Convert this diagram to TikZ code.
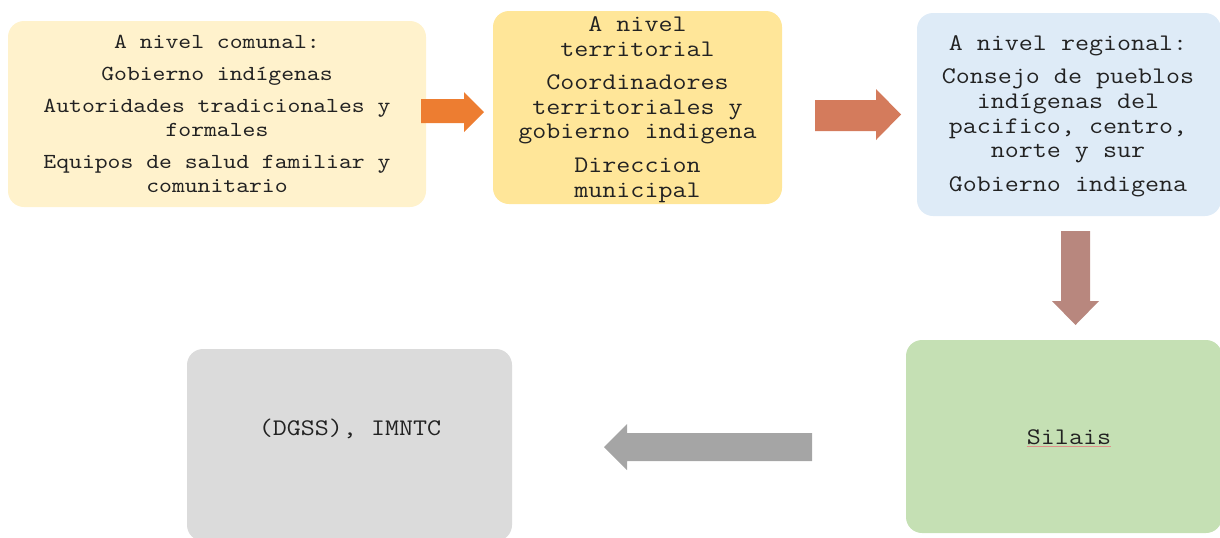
\documentclass[tikz,border=0pt]{standalone}
\usepackage{fontspec}
\setmonofont[FakeStretch=1.144]{Latin Modern Mono}
\definecolor{c1}{HTML}{FFF2CC}
\definecolor{c2}{HTML}{FFE699}
\definecolor{c3}{HTML}{DEEBF7}
\definecolor{c4}{HTML}{C5E0B4}
\definecolor{c5}{HTML}{DBDBDB}
\definecolor{a1}{HTML}{ED7D31}
\definecolor{a2}{HTML}{D47B5C}
\definecolor{a3}{HTML}{B8877E}
\definecolor{a4}{HTML}{A5A5A5}
\definecolor{txt}{HTML}{222222}
\definecolor{squig}{HTML}{E0908A}
\begin{document}
\begin{tikzpicture}[x=0.5pt,y=-0.5pt,
  box/.style={rounded corners=8pt, inner sep=0pt},
  lbl/.style={inner sep=0pt, align=center, text=txt},
  f1/.style={font=\ttfamily\fontsize{10.7}{12}\selectfont},
  f2/.style={font=\ttfamily\fontsize{11.9}{12.3}\selectfont}]
\path[use as bounding box] (0,0) rectangle (1220,537);
\clip (0,0) rectangle (1220,537);

% boxes
\node[box, fill=c1, minimum width=209pt, minimum height=93pt] (comunalbox) at (217,114) {};
\node[lbl, f1] (comunal) at (217,114)
  {A nivel comunal:\\[4pt] Gobierno indígenas\\[4pt] Autoridades tradicionales y\\ formales\\[4pt] Equipos de salud familiar y\\ comunitario};
\node[box, fill=c2, minimum width=144.5pt, minimum height=96.5pt] (territorialbox) at (637.5,107.5) {};
\node[lbl, f2] (territorial) at (637.5,109.5)
  {A nivel\\ territorial\\[4.5pt] Coordinadores\\ territoriales y\\ gobierno indigena\\[4.5pt] Direccion\\ municipal};
\node[box, fill=c3, minimum width=152pt, minimum height=101.5pt] (regionalbox) at (1069,114.5) {};
\node[lbl, f2] (regional) at (1068,116)
  {A nivel regional:\\[4.5pt] Consejo de pueblos\\ indígenas del\\ pacifico, centro,\\ norte y sur\\[4.5pt] Gobierno indigena};
\node[box, fill=c4, minimum width=158pt, minimum height=96.5pt] (silaisbox) at (1064,436.5) {};
\node[lbl, f2] (silais) at (1069,437) {Silais};
\draw[squig, line width=0.6pt] ([yshift=-1.2pt]silais.base west) -- ([yshift=-1.2pt]silais.base east);
\node[box, fill=c5, minimum width=162.5pt, minimum height=96pt] (dgssbox) at (349.5,445) {};
\node[lbl, f2] (dgss) at (350,429) {(DGSS), IMNTC};

% block arrows
\fill[a1] (421,99) -- (464,99) -- (464,92) -- (484,112) -- (464,132) -- (464,123) -- (421,123) -- cycle;
\fill[a2] (815,100) -- (876,100) -- (876,89) -- (901,114.5) -- (876,140) -- (876,131) -- (815,131) -- cycle;
\fill[a3] (1061,231) -- (1090,231) -- (1090,301) -- (1099,301) -- (1075.5,325) -- (1052,301) -- (1061,301) -- cycle;
\fill[a4] (812,433) -- (627,433) -- (627,424) -- (604,447) -- (627,470) -- (627,461) -- (812,461) -- cycle;
\end{tikzpicture}
\end{document}
